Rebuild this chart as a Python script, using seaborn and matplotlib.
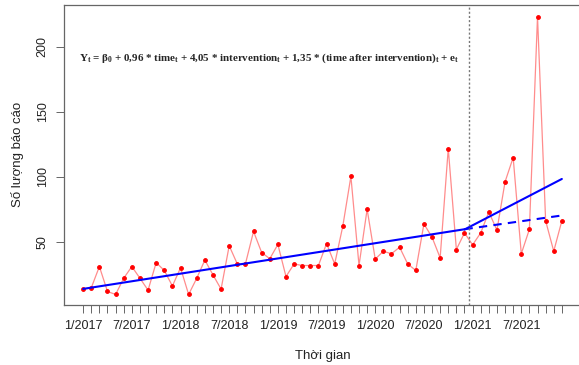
import matplotlib
matplotlib.use("Agg")
import matplotlib.pyplot as plt
import numpy as np
import pandas as pd
import seaborn as sns

# monthly report counts, 1/2017 .. 12/2021
months = list(range(1, 61))
reports = [13.6, 14.6, 31, 11.8, 9.5, 22, 31, 22, 12.8, 34,
           28, 16, 30, 9.5, 22, 36, 24.6, 13.6, 47, 33,
           33, 58, 41.8, 37, 48, 23.3, 33, 31.8, 31.8, 31.8,
           48.7, 33, 62, 100.3, 31.8, 75.1, 36.7, 42.8, 40.8, 45.9,
           33, 28, 63.8, 53.6, 37.7, 121.8, 44.1, 56.9, 47.7, 56.9,
           73, 59, 96.2, 114.9, 40.8, 59.7, 223.3, 66.2, 42.8, 66.2]

# fitted segments (month, value)
pre_month = [1, 48]
pre_fit = [13.8, 59.7]
post_month = [48, 60]
post_fit = [59.5, 98.4]
cf_month = [48, 60]
cf_fit = [59.7, 70.3]
intervention_at = 48.5

tick_pos = list(range(1, 61, 6))
tick_labels = ["1/2017", "7/2017", "1/2018", "7/2018", "1/2019", "7/2019",
               "1/2020", "7/2020", "1/2021", "7/2021"]

df = pd.DataFrame({"month": months, "reports": reports})

sns.set_style("white")
plt.rcParams["font.family"] = ["Liberation Sans", "DejaVu Sans"]
plt.rcParams["mathtext.fontset"] = "custom"
plt.rcParams["mathtext.rm"] = "Liberation Serif:bold"
plt.rcParams["mathtext.it"] = "Liberation Serif:bold"
plt.rcParams["mathtext.bf"] = "Liberation Serif:bold"

fig = plt.figure(figsize=(5.79, 3.65), dpi=100)
ax = fig.add_axes([64 / 579, 60 / 365, 517 / 579, 300.4 / 365])

sns.lineplot(data=df, x="month", y="reports", ax=ax, color="#ff8c8c", linewidth=0.9,
             marker="o", markersize=2.7, markerfacecolor="red", markeredgecolor="red")
sns.lineplot(x=pre_month, y=pre_fit, ax=ax, color="blue", linewidth=1.5)
sns.lineplot(x=post_month, y=post_fit, ax=ax, color="blue", linewidth=1.5)
sns.lineplot(x=cf_month, y=cf_fit, ax=ax, color="blue", linewidth=1.5, linestyle=(0, (4, 3)))
ax.axvline(intervention_at, color="#777777", linewidth=1, linestyle=(0, (1.5, 1.5)))

ax.text(23.9, 191,
        r"Y$_t$ = β$_0$ + 0,96 * time$_t$ + 4,05 * intervention$_t$ + 1,35 * (time after intervention)$_t$ + e$_t$",
        ha="center", va="center", fontsize=7.9, family="Liberation Serif", fontweight="bold")

ax.set_xlim(-1.36, 62.36)
ax.set_ylim(1.4, 232.6)
ax.set_xticks(months)
ax.set_xticklabels([tick_labels[tick_pos.index(m)] if m in tick_pos else "" for m in months])
ax.set_yticks([50, 100, 150, 200])
ax.set_yticklabels(["50", "100", "150", "200"], rotation=90, va="center")

for s in ax.spines.values():
    s.set_color("#666666")
    s.set_linewidth(0.9)
ax.tick_params(axis="both", direction="out", length=6, width=0.7, color="#666666",
               labelsize=9, pad=5, labelcolor="#222222")
ax.tick_params(axis="x", bottom=True)
ax.tick_params(axis="y", left=True)

ax.set_xlabel("Thời gian", fontsize=9.5, color="#222222", labelpad=13)
ax.set_ylabel("Số lượng báo cáo", fontsize=9.5, color="#222222", labelpad=9)

fig.savefig("out.png", dpi=100)
